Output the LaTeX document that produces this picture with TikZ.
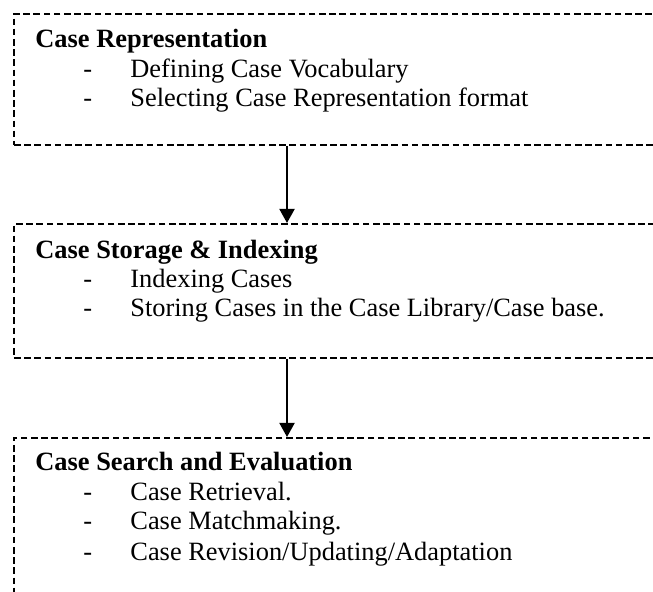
\documentclass[tikz,border=0pt]{standalone}
\usepackage{fontspec}
\setmainfont{Liberation Serif}
\usetikzlibrary{arrows.meta}
\begin{document}
\begin{tikzpicture}[x=0.5pt,y=-0.5pt,
  stagebox/.style={draw, line width=0.95pt, dash pattern=on 3.3pt off 1.8pt, anchor=north west, minimum width=343.5pt, inner sep=0pt},
  head/.style={anchor=base west, inner sep=0pt, font=\fontsize{13.2}{15}\selectfont\bfseries},
  item/.style={anchor=base west, inner sep=0pt, font=\fontsize{13.2}{15}\selectfont},
  arr/.style={line width=0.95pt, -{Triangle[length=7pt,width=7.5pt]}}]
\useasboundingbox (0,0) rectangle (653,592);
\clip (0,0) rectangle (653,592);
% boxes
\node[stagebox, minimum height=65.5pt] (box1) at (13,13) {};
\node[stagebox, minimum height=67pt] (box2) at (13,223) {};
\node[stagebox, minimum height=100pt] (box3) at (13,437) {};
\coordinate (ax) at (287,0);
% texts box 1
\node[head] (h1) at (35,48) {Case Representation};
\node[item] (d11) at (83,78) {-};
\node[item] (t11) at (130,78) {Defining Case Vocabulary};
\node[item] (d12) at (83,107) {-};
\node[item] (t12) at (130,107) {Selecting Case Representation format};
% texts box 2
\node[head] (h2) at (35,259) {Case Storage \& Indexing};
\node[item] (d21) at (83,288) {-};
\node[item] (t21) at (130,288) {Indexing Cases};
\node[item] (d22) at (83,317) {-};
\node[item] (t22) at (130,317) {Storing Cases in the Case Library/Case base.};
% texts box 3
\node[head] (h3) at (35,471) {Case Search and Evaluation};
\node[item] (d31) at (83,501) {-};
\node[item] (t31) at (130,501) {Case Retrieval.};
\node[item] (d32) at (83,530) {-};
\node[item] (t32) at (130,530) {Case Matchmaking.};
\node[item] (d33) at (83,560) {-};
\node[item] (t33) at (130,560) {Case Revision/Updating/Adaptation};
% arrows
\draw[arr] (box1.south -| ax) -- (box2.north -| ax);
\draw[arr] (box2.south -| ax) -- (box3.north -| ax);
\end{tikzpicture}
\end{document}
